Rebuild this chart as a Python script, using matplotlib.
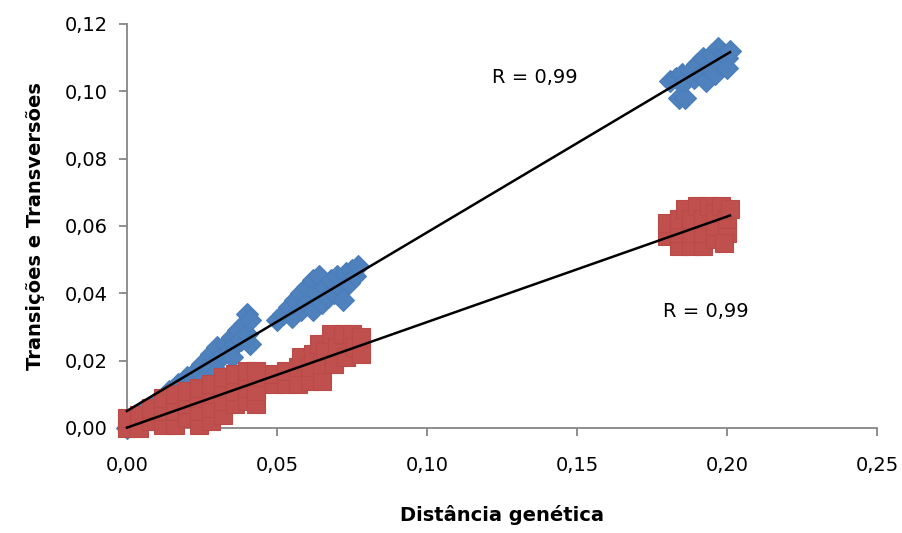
import numpy as np
import matplotlib
matplotlib.use('Agg')
import matplotlib.pyplot as plt
from matplotlib.ticker import FuncFormatter

# transitions (blue diamonds)
ts_x = [0.000, 0.003, 0.005, 0.008, 0.010, 0.012, 0.014, 0.016, 0.017, 0.019,
        0.020, 0.022, 0.023, 0.025, 0.025, 0.027, 0.028, 0.030, 0.030, 0.032,
        0.033, 0.034, 0.035, 0.036, 0.037, 0.038, 0.039, 0.040, 0.040, 0.041,
        0.041, 0.035, 0.030, 0.025,
        0.050, 0.052, 0.054, 0.055, 0.056, 0.058, 0.058, 0.060, 0.060, 0.062,
        0.062, 0.063, 0.064, 0.065, 0.066, 0.067, 0.068, 0.069, 0.070, 0.071,
        0.072, 0.073, 0.074, 0.075, 0.076, 0.077,
        0.181, 0.183, 0.184, 0.186, 0.185, 0.186, 0.188, 0.189, 0.190, 0.191,
        0.192, 0.193, 0.194, 0.195, 0.196, 0.197, 0.198, 0.199, 0.200, 0.201,
        0.200]
ts_y = [0.000, 0.002, 0.005, 0.005, 0.008, 0.008, 0.011, 0.010, 0.013, 0.012,
        0.015, 0.014, 0.017, 0.016, 0.019, 0.018, 0.022, 0.020, 0.024, 0.022,
        0.025, 0.023, 0.027, 0.025, 0.029, 0.026, 0.031, 0.028, 0.034, 0.032,
        0.025, 0.021, 0.017, 0.014,
        0.032, 0.034, 0.036, 0.033, 0.038, 0.040, 0.035, 0.042, 0.037, 0.044,
        0.035, 0.040, 0.045, 0.037, 0.042, 0.039, 0.044, 0.040, 0.045, 0.042,
        0.038, 0.046, 0.043, 0.047, 0.045, 0.048,
        0.103, 0.104, 0.098, 0.098, 0.105, 0.103, 0.106, 0.104, 0.108, 0.105,
        0.110, 0.103, 0.107, 0.111, 0.105, 0.113, 0.108, 0.111, 0.110, 0.112,
        0.107]

# transversions (red squares)
tv_x = [0.000, 0.000, 0.004, 0.004, 0.008, 0.008, 0.012, 0.012, 0.012, 0.016,
        0.016, 0.016, 0.020, 0.020, 0.020, 0.024, 0.024, 0.024, 0.024, 0.028,
        0.028, 0.028, 0.028, 0.032, 0.032, 0.032, 0.032, 0.036, 0.036, 0.036,
        0.040, 0.040, 0.040, 0.043, 0.043, 0.043, 0.043,
        0.049, 0.049, 0.053, 0.053, 0.057, 0.057, 0.058, 0.061, 0.061, 0.062,
        0.064, 0.065, 0.065, 0.066, 0.068, 0.069, 0.070, 0.072, 0.073, 0.075,
        0.076, 0.078, 0.078,
        0.180, 0.180, 0.184, 0.184, 0.184, 0.186, 0.188, 0.188, 0.188, 0.190,
        0.192, 0.192, 0.192, 0.194, 0.196, 0.196, 0.196, 0.198, 0.200, 0.200,
        0.201, 0.199]
tv_y = [0.000, 0.003, 0.000, 0.004, 0.002, 0.006, 0.001, 0.005, 0.009, 0.001,
        0.005, 0.010, 0.003, 0.007, 0.011, 0.001, 0.005, 0.009, 0.012, 0.002,
        0.006, 0.010, 0.013, 0.004, 0.008, 0.012, 0.015, 0.007, 0.011, 0.016,
        0.008, 0.012, 0.017, 0.007, 0.011, 0.015, 0.017,
        0.013, 0.016, 0.013, 0.017, 0.013, 0.018, 0.021, 0.014, 0.018, 0.022,
        0.025, 0.014, 0.019, 0.023, 0.028, 0.019, 0.024, 0.028, 0.021, 0.028,
        0.024, 0.022, 0.027,
        0.057, 0.061, 0.054, 0.058, 0.062, 0.065, 0.054, 0.058, 0.062, 0.066,
        0.054, 0.058, 0.062, 0.066, 0.056, 0.060, 0.064, 0.066, 0.058, 0.062,
        0.065, 0.055]

r_labels = ['R = 0,99', 'R = 0,99']

grey = '#868686'
blue_fill, blue_edge = '#4F81BD', '#4A7DBA'
red_fill, red_edge = '#C0504D', '#B94A47'

plt.rcParams['font.family'] = ['Liberation Sans Narrow', 'DejaVu Sans']

fig = plt.figure(figsize=(9.03, 5.33), dpi=100)
ax = fig.add_axes([0.1406, 0.197, 0.8306, 0.758])

ax.plot(ts_x, ts_y, linestyle='none', marker='D', markersize=11,
        markerfacecolor=blue_fill, markeredgecolor=blue_edge, markeredgewidth=0.8,
        clip_on=False, zorder=3)
ax.plot(tv_x, tv_y, linestyle='none', marker='s', markersize=13,
        markerfacecolor=red_fill, markeredgecolor=red_edge, markeredgewidth=0.8,
        clip_on=False, zorder=3)

# linear trend lines
for xs, ys in [(ts_x, ts_y), (tv_x, tv_y)]:
    xs = np.array(xs)
    ys = np.array(ys)
    m, b = np.polyfit(xs, ys, 1)
    xl = np.array([xs.min(), xs.max()])
    ax.plot(xl, m * xl + b, color='black', lw=1.8, zorder=4, clip_on=False)

ax.text(0.136, 0.104, r_labels[0], fontsize=14, ha='center', va='center')
ax.text(0.193, 0.0345, r_labels[1], fontsize=14, ha='center', va='center')

ax.set_xlim(0, 0.25)
ax.set_ylim(0, 0.12)
ax.set_xticks(np.arange(0, 0.2501, 0.05))
ax.set_yticks(np.arange(0, 0.1201, 0.02))
fmt = FuncFormatter(lambda v, p: f'{v:.2f}'.replace('.', ','))
ax.xaxis.set_major_formatter(fmt)
ax.yaxis.set_major_formatter(fmt)

for s in ['top', 'right']:
    ax.spines[s].set_visible(False)
for s in ['left', 'bottom']:
    ax.spines[s].set_color(grey)
    ax.spines[s].set_linewidth(1.3)
ax.tick_params(direction='out', length=6, width=1.3, color=grey,
               labelsize=14, labelcolor='black')
ax.tick_params(axis='x', pad=14)
ax.tick_params(axis='y', pad=8)

ax.set_xlabel('Distância genética', fontsize=14, fontweight='bold', labelpad=22)
ax.set_ylabel('Transições e Transversões', fontsize=14, fontweight='bold', labelpad=14)

fig.savefig('out.png', dpi=100)
